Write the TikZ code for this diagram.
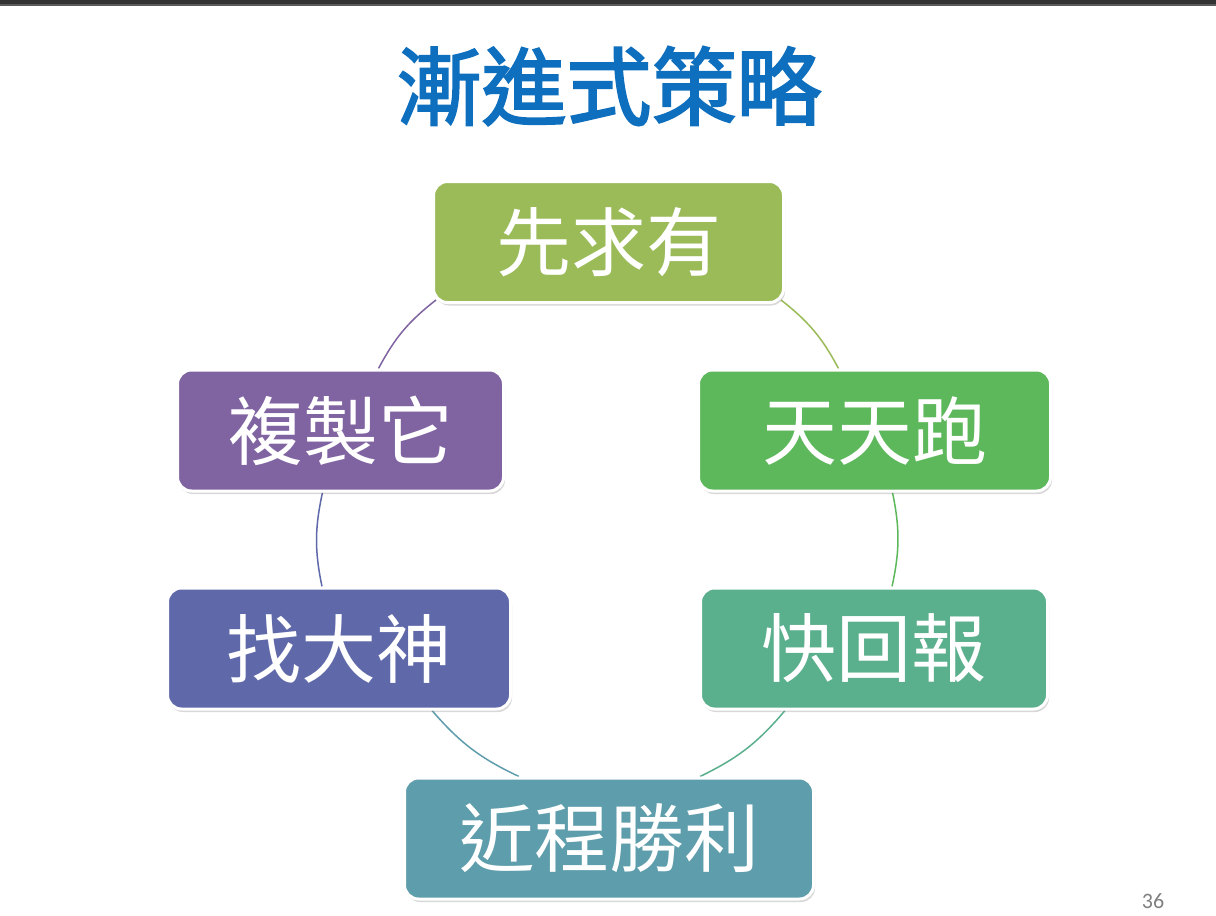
\documentclass[tikz,border=0pt]{standalone}
\usepackage{fontspec}
\newfontfamily\cjk{Noto Sans CJK TC}
\newfontfamily\cjktitle{Noto Sans CJK TC}[FakeBold=2.4]
\newfontfamily\pgnum{Carlito}
\usetikzlibrary{shadows,backgrounds}
\definecolor{cTop}{HTML}{9BBB59}
\definecolor{cRun}{HTML}{5DB75B}
\definecolor{cRep}{HTML}{5AAF8C}
\definecolor{cWin}{HTML}{5E9DAB}
\definecolor{cGod}{HTML}{5F69A9}
\definecolor{cCopy}{HTML}{8064A2}
\definecolor{titleblue}{HTML}{0E6FBE}
\definecolor{barDark}{HTML}{333333}
\definecolor{barLight}{HTML}{5A5A5A}
\begin{document}
\begin{tikzpicture}[x=1pt,y=-1pt,
  box/.style={draw=white, line width=3pt, rounded corners=14pt, text=white,
    font=\cjk\fontsize{75}{80}\selectfont, minimum height=121pt, inner sep=0pt,
    drop shadow={shadow xshift=1.5pt, shadow yshift=-3pt, opacity=0.3}},
  link/.style={line width=1.5pt, bend left=12}]
\useasboundingbox (0,0) rectangle (1216,916);

% title and page number
\node[font=\cjktitle\fontsize{85}{90}\selectfont, text=titleblue] (title) at (609,86) {漸進式策略};
\node[font=\pgnum\fontsize{22}{24}\selectfont, text=gray] (pg) at (1153,901) {36};

% boxes
\node[box, fill=cTop,  minimum width=350pt] (top)  at (608.5,242)   {先求有};
\node[box, fill=cRun,  minimum width=352pt] (run)  at (874.5,430.5) {天天跑};
\node[box, fill=cRep,  minimum width=347pt] (rep)  at (874,648.5)   {快回報};
\node[box, fill=cWin,  minimum width=409pt] (win)  at (609,838.5)   {近程勝利};
\node[box, fill=cGod,  minimum width=343pt] (god)  at (339,648.5)   {找大神};
\node[box, fill=cCopy, minimum width=326pt] (copy) at (340.5,430.5) {複製它};

\begin{pgfonlayer}{background}
\fill[white] (0,0) rectangle (1216,916);
\fill[barDark] (0,0) rectangle (1216,4);
\fill[barLight] (0,4) rectangle (1216,6);
\draw[link, cCopy] ([xshift=38pt]copy.north) to ([xshift=4pt,yshift=4pt]top.south west);
\draw[link, cTop] ([xshift=-4pt,yshift=4pt]top.south east) to ([xshift=-36pt]run.north);
\draw[link, cRun] ([xshift=18pt]run.south) to ([xshift=18pt]rep.north);
\draw[link, cRep] ([xshift=-89pt]rep.south) to ([xshift=91pt]win.north);
\draw[link, cWin] ([xshift=-90pt]win.north) to ([xshift=93pt]god.south);
\draw[link, cGod] ([xshift=-17pt]god.north) to ([xshift=-18pt]copy.south);
\end{pgfonlayer}
\end{tikzpicture}
\end{document}
